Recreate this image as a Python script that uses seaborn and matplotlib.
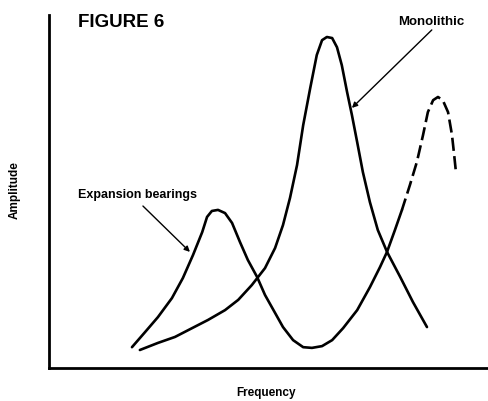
import pandas as pd
import seaborn as sns
import matplotlib.pyplot as plt

sns.set_style("white")
plt.rcParams['font.family'] = ['Liberation Sans', 'DejaVu Sans']
plt.rcParams['text.color'] = 'black'

# Expansion bearings curve (frequency, amplitude), schematic units 0-100
exp_freq = [18.9, 21.9, 24.8, 28.0, 30.5, 32.8, 34.9, 36.0, 37.1, 38.5, 40.1, 41.7, 43.5,
            45.3, 47.4, 49.2, 51.5, 53.3, 55.6, 57.9, 59.9, 62.2, 64.5, 67.0, 70.2, 73.1,
            75.4, 77.0, 78.8, 80.4]
exp_amp = [5.9, 10.2, 14.4, 19.8, 25.5, 32.0, 38.5, 42.8, 44.5, 44.8, 43.9, 41.1, 35.7,
           30.6, 25.8, 20.7, 15.6, 11.6, 7.9, 5.9, 5.7, 6.2, 7.9, 11.3, 16.4, 22.9,
           28.6, 32.9, 39.1, 44.8]
# dashed continuation of the expansion bearings curve
exp_dash_freq = [80.4, 82.2, 83.8, 85.2, 86.3, 87.5, 88.6, 89.7, 90.9, 91.8, 92.3, 92.7]
exp_dash_amp = [44.8, 51.8, 58.4, 66.0, 72.5, 75.9, 76.8, 75.9, 72.5, 66.0, 60.3, 55.5]

# Monolithic curve
mono_freq = [20.7, 24.8, 28.7, 32.6, 36.2, 40.1, 43.1, 46.2, 49.2, 51.5, 53.3, 54.9,
             56.5, 57.9, 59.5, 61.0, 62.2, 63.3, 64.5, 65.6, 66.7, 67.9, 69.0, 70.2,
             71.5, 73.1, 74.9, 77.0, 80.0, 82.9, 86.1]
mono_amp = [5.1, 7.1, 8.8, 11.3, 13.6, 16.4, 19.3, 23.5, 28.3, 34.0, 40.5, 48.2,
            57.5, 68.8, 79.3, 88.7, 92.9, 93.8, 93.5, 90.9, 85.8, 78.2, 71.7, 64.0,
            55.5, 47.0, 39.1, 32.9, 25.8, 18.7, 11.6]

fig = plt.figure(figsize=(4.88, 4.01), dpi=100)
ax = fig.add_axes([0.1004, 0.0823, 0.8996, 0.880])

lw = 1.9
sns.lineplot(x=exp_freq, y=exp_amp, ax=ax, color='black', linewidth=lw)
sns.lineplot(x=exp_dash_freq, y=exp_dash_amp, ax=ax, color='black', linewidth=lw)
ax.lines[-1].set_linestyle((0.5, (5, 2)))
sns.lineplot(x=mono_freq, y=mono_amp, ax=ax, color='black', linewidth=lw)
for line in ax.lines:
    line.set_solid_joinstyle('round')
    line.set_solid_capstyle('round')

ax.set_xlim(0, 100)
ax.set_ylim(0, 100)
ax.set_xticks([])
ax.set_yticks([])
ax.set_xlabel("")
ax.set_ylabel("")
sns.despine(ax=ax)
for side in ['left', 'bottom']:
    ax.spines[side].set_color('black')
    ax.spines[side].set_linewidth(2)

ax.text(6.6, 98.0, "FIGURE 6", fontsize=13.5, fontweight='bold', va='center', ha='left')
ax.text(79.5, 98.0, "Monolithic", fontsize=9.5, fontweight='bold', va='center', ha='left')
ax.text(6.6, 49.0, "Expansion bearings", fontsize=9, fontweight='bold', va='center', ha='left')

arrow = dict(arrowstyle='-|>', color='black', lw=1.0, mutation_scale=8, shrinkA=0, shrinkB=0)
ax.annotate("", xy=(32.1, 32.9), xytext=(21.4, 45.9), arrowprops=arrow)
ax.annotate("", xy=(69.0, 73.7), xytext=(87.2, 95.8), arrowprops=arrow)

fig.text(15 / 488, 1 - 190 / 401, "Amplitude", rotation=90, fontsize=8.5,
         fontweight='bold', ha='center', va='center')
fig.text(266 / 488, 1 - 393 / 401, "Frequency", fontsize=8.5, fontweight='bold',
         ha='center', va='center')

fig.savefig("out.png", dpi=100)
